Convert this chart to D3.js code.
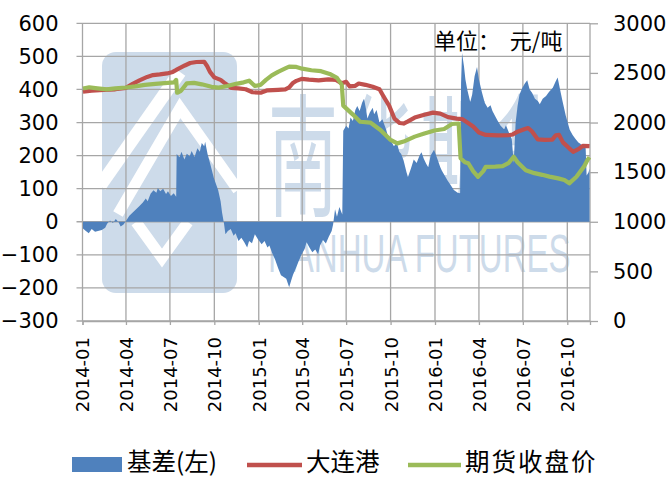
<!DOCTYPE html>
<html>
<head>
<meta charset="utf-8">
<script src="https://cdn.jsdelivr.net/npm/d3@7"></script>
<style>
  body { margin: 0; background: #fff; }
  svg { display: block; }
</style>
</head>
<body>
<svg id="chart" width="672" height="478"></svg>
<script>
// 基差 (left axis, 元/吨)
const basisData = [
  ["2014-01-02",-20],["2014-01-08",-28],["2014-01-14",-35],["2014-01-20",-22],["2014-01-27",-30],
  ["2014-02-10",-25],["2014-02-17",-18],["2014-02-21",-6],["2014-02-27",4],["2014-03-05",-4],
  ["2014-03-11",8],["2014-03-17",-2],["2014-03-21",-14],["2014-03-27",-8],["2014-04-01",2],
  ["2014-04-08",18],["2014-04-15",28],["2014-04-22",38],["2014-04-29",48],["2014-05-06",58],
  ["2014-05-12",70],["2014-05-16",62],["2014-05-22",85],["2014-05-28",95],["2014-06-03",88],
  ["2014-06-06",102],["2014-06-11",92],["2014-06-17",100],["2014-06-23",84],["2014-06-27",92],
  ["2014-07-03",78],["2014-07-09",86],["2014-07-14",76],["2014-07-15",205],["2014-07-21",195],
  ["2014-07-25",212],["2014-07-31",188],["2014-08-05",206],["2014-08-11",198],["2014-08-15",214],
  ["2014-08-21",196],["2014-08-27",222],["2014-09-01",212],["2014-09-05",238],["2014-09-10",228],
  ["2014-09-12",242],["2014-09-17",205],["2014-09-23",172],["2014-09-30",132],["2014-10-09",95],
  ["2014-10-14",62],["2014-10-17",28],["2014-10-21",-5],["2014-10-24",-38],["2014-10-29",-28],
  ["2014-11-04",-22],["2014-11-10",-42],["2014-11-14",-35],["2014-11-20",-58],["2014-11-26",-48],
  ["2014-12-02",-62],["2014-12-08",-78],["2014-12-12",-58],["2014-12-18",-65],["2014-12-24",-38],
  ["2014-12-30",-52],["2015-01-07",-68],["2015-01-13",-58],["2015-01-19",-78],["2015-01-23",-72],
  ["2015-01-29",-95],["2015-02-04",-115],["2015-02-10",-140],["2015-02-16",-162],["2015-02-27",-172],
  ["2015-03-03",-190],["2015-03-05",-198],["2015-03-09",-178],["2015-03-13",-160],["2015-03-19",-140],
  ["2015-03-25",-118],["2015-03-31",-98],["2015-04-06",-82],["2015-04-10",-62],["2015-04-16",-78],
  ["2015-04-22",-92],["2015-04-28",-84],["2015-05-04",-98],["2015-05-08",-72],["2015-05-14",-55],
  ["2015-05-20",-66],["2015-05-26",-45],["2015-06-01",-28],["2015-06-04",-8],["2015-06-08",38],
  ["2015-06-12",15],["2015-06-17",45],["2015-06-23",22],["2015-06-25",275],["2015-07-01",290],
  ["2015-07-06",282],["2015-07-10",315],["2015-07-15",305],["2015-07-20",338],["2015-07-24",350],
  ["2015-07-29",335],["2015-08-03",360],["2015-08-07",372],["2015-08-11",342],["2015-08-14",312],
  ["2015-08-19",330],["2015-08-25",345],["2015-08-28",325],["2015-09-02",338],["2015-09-08",300],
  ["2015-09-14",310],["2015-09-21",282],["2015-09-25",262],["2015-10-08",228],["2015-10-14",240],
  ["2015-10-19",212],["2015-10-23",205],["2015-10-28",185],["2015-11-03",150],["2015-11-06",135],
  ["2015-11-12",160],["2015-11-18",188],["2015-11-24",178],["2015-11-30",200],["2015-12-04",210],
  ["2015-12-09",190],["2015-12-14",175],["2015-12-18",165],["2015-12-23",200],["2015-12-30",218],
  ["2016-01-06",190],["2016-01-12",165],["2016-01-15",155],["2016-01-21",140],["2016-01-27",125],
  ["2016-02-02",112],["2016-02-09",96],["2016-02-17",88],["2016-02-22",86],["2016-02-24",420],
  ["2016-02-26",510],["2016-03-01",470],["2016-03-04",430],["2016-03-08",398],["2016-03-14",362],
  ["2016-03-18",385],["2016-03-23",440],["2016-03-28",468],["2016-04-01",430],["2016-04-07",392],
  ["2016-04-13",360],["2016-04-19",345],["2016-04-25",352],["2016-04-29",335],["2016-05-05",318],
  ["2016-05-10",305],["2016-05-16",290],["2016-05-23",280],["2016-05-27",292],["2016-06-02",270],
  ["2016-06-08",250],["2016-06-12",178],["2016-06-16",300],["2016-06-20",350],["2016-06-24",385],
  ["2016-06-30",405],["2016-07-05",418],["2016-07-10",428],["2016-07-15",400],["2016-07-20",390],
  ["2016-07-26",372],["2016-08-01",365],["2016-08-05",355],["2016-08-11",372],["2016-08-18",380],
  ["2016-08-24",392],["2016-09-01",405],["2016-09-07",425],["2016-09-11",436],["2016-09-16",400],
  ["2016-09-21",365],["2016-09-28",320],["2016-10-06",278],["2016-10-12",262],["2016-10-18",250],
  ["2016-10-24",240],["2016-10-28",236],["2016-11-02",228],["2016-11-08",222],["2016-11-10",140],
  ["2016-11-14",150],["2016-11-16",160]
];

// 大连港 spot price (right axis)
const dalianData = [
  ["2014-01-02",2310],["2014-01-20",2320],["2014-02-14",2330],["2014-03-10",2335],["2014-04-01",2350],
  ["2014-04-15",2390],["2014-04-29",2425],["2014-05-15",2460],["2014-05-27",2478],["2014-06-10",2485],
  ["2014-06-25",2495],["2014-07-07",2510],["2014-07-18",2540],["2014-08-01",2575],["2014-08-12",2600],
  ["2014-08-25",2610],["2014-09-10",2612],["2014-09-16",2570],["2014-09-22",2510],["2014-10-01",2455],
  ["2014-10-14",2430],["2014-10-22",2400],["2014-11-05",2350],["2014-11-20",2345],["2014-12-05",2335],
  ["2014-12-19",2305],["2015-01-05",2300],["2015-01-19",2325],["2015-02-10",2330],["2015-02-25",2335],
  ["2015-03-05",2355],["2015-03-12",2395],["2015-03-20",2420],["2015-03-31",2440],["2015-04-15",2432],
  ["2015-05-05",2425],["2015-05-25",2435],["2015-06-10",2430],["2015-06-22",2395],["2015-07-01",2410],
  ["2015-07-08",2365],["2015-07-20",2370],["2015-07-27",2393],["2015-08-10",2380],["2015-08-25",2360],
  ["2015-09-08",2335],["2015-09-18",2250],["2015-09-28",2170],["2015-10-09",2040],["2015-10-20",1995],
  ["2015-10-28",1990],["2015-11-05",2010],["2015-11-20",2050],["2015-12-10",2078],["2015-12-28",2100],
  ["2016-01-12",2090],["2016-01-28",2055],["2016-02-15",2040],["2016-02-26",2035],["2016-03-08",2000],
  ["2016-03-20",1960],["2016-04-01",1900],["2016-04-15",1875],["2016-05-10",1870],["2016-06-01",1872],
  ["2016-06-10",1880],["2016-06-20",1908],["2016-07-05",1935],["2016-07-12",1945],["2016-07-20",1910],
  ["2016-08-01",1830],["2016-08-15",1825],["2016-08-31",1828],["2016-09-07",1870],["2016-09-14",1875],
  ["2016-09-22",1800],["2016-10-05",1740],["2016-10-13",1705],["2016-10-25",1735],["2016-11-02",1765],
  ["2016-11-16",1762]
];

// 期货收盘价 futures close (right axis)
const futuresData = [
  ["2014-01-02",2343],["2014-01-15",2355],["2014-02-01",2345],["2014-02-20",2335],["2014-03-10",2345],
  ["2014-04-01",2353],["2014-04-20",2365],["2014-05-10",2380],["2014-06-01",2390],["2014-06-20",2398],
  ["2014-07-10",2405],["2014-07-14",2430],["2014-07-16",2300],["2014-07-24",2320],["2014-08-05",2395],
  ["2014-08-20",2400],["2014-09-05",2385],["2014-09-25",2360],["2014-10-10",2352],["2014-10-28",2368],
  ["2014-11-15",2390],["2014-12-01",2405],["2014-12-12",2422],["2014-12-24",2368],["2015-01-05",2380],
  ["2015-01-16",2430],["2015-01-28",2475],["2015-02-10",2510],["2015-02-25",2545],["2015-03-05",2563],
  ["2015-03-20",2560],["2015-04-01",2543],["2015-04-20",2527],["2015-05-10",2518],["2015-05-28",2490],
  ["2015-06-12",2450],["2015-06-22",2380],["2015-06-25",2170],["2015-07-15",2080],["2015-07-30",2008],
  ["2015-08-20",2000],["2015-09-10",1925],["2015-09-30",1828],["2015-10-15",1790],["2015-10-28",1808],
  ["2015-11-20",1858],["2015-12-10",1890],["2015-12-31",1920],["2016-01-20",1935],["2016-02-05",1985],
  ["2016-02-19",1990],["2016-02-23",1640],["2016-03-03",1600],["2016-03-10",1590],["2016-03-20",1510],
  ["2016-03-30",1453],["2016-04-10",1510],["2016-04-15",1553],["2016-05-05",1555],["2016-05-20",1560],
  ["2016-06-01",1590],["2016-06-12",1655],["2016-06-20",1600],["2016-07-07",1520],["2016-07-25",1490],
  ["2016-08-10",1473],["2016-08-25",1455],["2016-09-12",1437],["2016-09-25",1420],["2016-10-05",1387],
  ["2016-10-20",1453],["2016-11-05",1560],["2016-11-12",1625],["2016-11-16",1650]
];

const xTickLabels = ["2014-01","2014-04","2014-07","2014-10","2015-01","2015-04",
                     "2015-07","2015-10","2016-01","2016-04","2016-07","2016-10"];
const leftTicks = [-300,-200,-100,0,100,200,300,400,500,600];
const rightTicks = [0,500,1000,1500,2000,2500,3000];
const seriesNames = ["基差(左)","大连港","期货收盘价"];
const unitText = "单位：  元/吨";

const C = { basis: "#4f81bd", dalian: "#c0504d", futures: "#9bbb59", grid: "#a6a6a6" };
const numFont = "'DejaVu Sans', sans-serif";
const cjkFont = "'Noto Sans CJK SC', sans-serif";

const svg = d3.select("#chart");
const P = { l: 82.5, r: 590, t: 23.3, b: 321 };
const parse = d3.timeParse("%Y-%m-%d");
const parseMonth = d3.timeParse("%Y-%m");

const x = d3.scaleTime().domain([parse("2014-01-01"), parse("2016-11-17")]).range([P.l, P.r]);
const yL = d3.scaleLinear().domain([-300, 600]).range([P.b, P.t]);
const yR = d3.scaleLinear().domain([0, 3000]).range([P.b, P.t]);

const basis = basisData.map(([d, v]) => ({ date: parse(d), v }));
const dalian = dalianData.map(([d, v]) => ({ date: parse(d), v }));
const futures = futuresData.map(([d, v]) => ({ date: parse(d), v }));
const tickDates = xTickLabels.map(parseMonth);

// faint company watermark behind the plot
const wm = svg.append("g").attr("class", "watermark");
const wmColor = "#cddbea";
wm.append("rect").attr("x", 102).attr("y", 52).attr("width", 135).attr("height", 241)
  .attr("rx", 14).attr("fill", wmColor);
wm.append("path").attr("d", "M100,186 L180,72").attr("stroke", "#fff").attr("stroke-width", 13).attr("fill", "none");
wm.append("path").attr("d", "M118,214 L180,108 L238,190").attr("stroke", "#fff").attr("stroke-width", 11).attr("fill", "none");
wm.append("path").attr("d", "M136,222 L162,258 L188,222").attr("stroke", "#fff").attr("stroke-width", 11).attr("fill", "none");
wm.append("text").attr("transform", "translate(268,206) scale(1,1.9)")
  .attr("font-family", cjkFont).attr("font-size", 70).attr("fill", wmColor)
  .attr("letter-spacing", 6).text("南华期货");
wm.append("text").attr("transform", "translate(268,272) scale(1,1.65)")
  .attr("font-family", "'Liberation Sans', sans-serif").attr("font-size", 33)
  .attr("fill", wmColor).text("NANHUA FUTURES");

// gridlines
const grid = svg.append("g").attr("stroke", C.grid).attr("stroke-width", 1.3);
grid.selectAll(".hg").data(leftTicks).join("line")
  .attr("x1", P.l - 6).attr("x2", P.r).attr("y1", d => yL(d)).attr("y2", d => yL(d));
grid.selectAll(".vg").data(tickDates).join("line")
  .attr("x1", d => x(d)).attr("x2", d => x(d)).attr("y1", P.t).attr("y2", P.b);
grid.append("line").attr("x1", P.r).attr("x2", P.r).attr("y1", P.t).attr("y2", P.b);

// basis area
svg.append("path").datum(basis)
  .attr("fill", C.basis)
  .attr("d", d3.area().x(d => x(d.date)).y0(yL(0)).y1(d => yL(d.v)));

// price lines
const line = d3.line().x(d => x(d.date)).y(d => yR(d.v));
svg.append("path").datum(dalian).attr("fill", "none").attr("stroke", C.dalian)
  .attr("stroke-width", 4.2).attr("stroke-linejoin", "round").attr("d", line);
svg.append("path").datum(futures).attr("fill", "none").attr("stroke", C.futures)
  .attr("stroke-width", 4.2).attr("stroke-linejoin", "round").attr("d", line);

// left axis
const axL = svg.append("g").attr("transform", `translate(${P.l},0)`)
  .call(d3.axisLeft(yL).tickValues(leftTicks).tickSize(0).tickPadding(24));
axL.select(".domain").remove();
axL.selectAll("text").attr("font-family", numFont).attr("font-size", 21).attr("fill", "#000");

// right axis
const axR = svg.append("g").attr("transform", `translate(${P.r},0)`)
  .call(d3.axisRight(yR).tickValues(rightTicks).tickSize(8).tickPadding(15).tickFormat(d3.format("d")));
axR.select(".domain").remove();
axR.selectAll("line").attr("stroke", C.grid).attr("stroke-width", 1.3);
axR.selectAll("text").attr("font-family", numFont).attr("font-size", 21).attr("fill", "#000");

// bottom axis with vertical labels
const axB = svg.append("g").attr("transform", `translate(0,${P.b})`)
  .call(d3.axisBottom(x).tickValues(tickDates).tickSize(4).tickFormat((d, i) => xTickLabels[i]));
axB.select(".domain").attr("stroke", C.grid).attr("stroke-width", 1.3);
axB.selectAll("line").attr("stroke", C.grid).attr("stroke-width", 1.3);
axB.selectAll("text")
  .attr("font-family", numFont).attr("font-size", 18).attr("fill", "#000")
  .attr("text-anchor", "end").attr("dy", "0.36em").attr("y", 0)
  .attr("transform", "translate(0,16) rotate(-90)");

// unit label
svg.append("text").attr("x", 434).attr("y", 49).attr("xml:space", "preserve")
  .style("white-space", "pre")
  .attr("font-family", cjkFont).attr("font-size", 22).attr("fill", "#000").text(unitText);

// legend
const lg = svg.append("g").attr("font-family", cjkFont).attr("font-size", 24.5).attr("fill", "#000");
lg.append("rect").attr("x", 72).attr("y", 457).attr("width", 50).attr("height", 15).attr("fill", C.basis);
lg.append("text").attr("x", 127).attr("y", 471).text(seriesNames[0]);
lg.append("line").attr("x1", 247).attr("x2", 302).attr("y1", 465).attr("y2", 465)
  .attr("stroke", C.dalian).attr("stroke-width", 4.5);
lg.append("text").attr("x", 306).attr("y", 471).text(seriesNames[1]);
lg.append("line").attr("x1", 408).attr("x2", 461).attr("y1", 465).attr("y2", 465)
  .attr("stroke", C.futures).attr("stroke-width", 4.5);
lg.append("text").attr("x", 465).attr("y", 471).attr("letter-spacing", 2).text(seriesNames[2]);
</script>
</body>
</html>
